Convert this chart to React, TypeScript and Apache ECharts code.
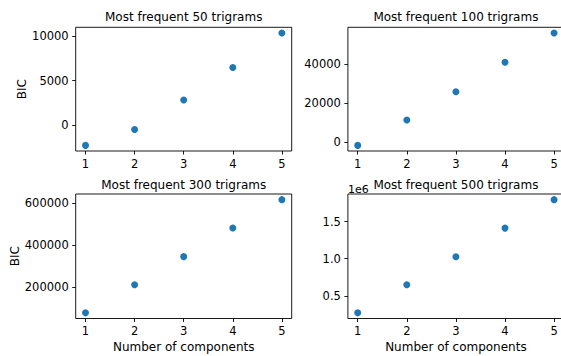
import React, { useEffect, useRef } from "react";
import * as echarts from "echarts";

// Number of mixture components tried for each vocabulary size
const components = [1, 2, 3, 4, 5];

// BIC scores per subset of most frequent trigrams
const bic50 = [-2300, -500, 2820, 6500, 10400];
const bic100 = [-1530, 11430, 25870, 41020, 56000];
const bic300 = [77200, 211500, 345800, 483000, 618000];
const bic500 = [270000, 650000, 1027000, 1413000, 1797000];

const panelTitles = [
  "Most frequent 50 trigrams",
  "Most frequent 100 trigrams",
  "Most frequent 300 trigrams",
  "Most frequent 500 trigrams",
];

// Tick positions on each y axis
const yTicks50 = [0, 5000, 10000];
const yTicks100 = [0, 20000, 40000];
const yTicks300 = [200000, 400000, 600000];
const yTicks500 = [500000, 1000000, 1500000];

const FONT = "DejaVu Sans";
const BLUE = "#1f77b4";

// Panel boxes in pixels: left, top, width, height
const boxes = [
  { left: 75.7, top: 27.3, width: 216, height: 123.7 },
  { left: 347.9, top: 27.3, width: 216, height: 123.7 },
  { left: 75.7, top: 194, width: 216, height: 124.5 },
  { left: 347.9, top: 194, width: 216, height: 124.5 },
];

// Autoscale with a 5% margin on each side, like matplotlib
function padded(vals: number[]) {
  const lo = Math.min(...vals);
  const hi = Math.max(...vals);
  const m = (hi - lo) * 0.05;
  return { min: lo - m, max: hi + m };
}

export default function App() {
  const ref = useRef<HTMLDivElement>(null);

  useEffect(() => {
    if (!ref.current) return;
    const chart = echarts.init(ref.current, undefined, { renderer: "svg" });

    const seriesData = [bic50, bic100, bic300, bic500];
    const yTicks = [yTicks50, yTicks100, yTicks300, yTicks500];

    const grid = boxes.map((b) => ({
      ...b,
      show: true,
      borderColor: "#000",
      borderWidth: 0.9,
      backgroundColor: "transparent",
      containLabel: false,
      outerBoundsMode: "none",
    }));

    const xAxis = boxes.map((_, i) => ({
      type: "value",
      gridIndex: i,
      position: "bottom",
      min: 0.8,
      max: 5.2,
      splitLine: { show: false },
      axisLine: { show: false, onZero: false },
      axisTick: {
        show: true,
        inside: false,
        length: 3.5,
        customValues: components,
        lineStyle: { color: "#000", width: 0.9 },
      },
      axisLabel: {
        show: true,
        margin: 6.5,
        customValues: components,
        fontFamily: FONT,
        fontSize: 11.5,
        color: "#000",
        formatter: (v: number) => String(v),
      },
      name: i >= 2 ? "Number of components" : "",
      nameLocation: "middle",
      nameGap: 22,
      nameTextStyle: { fontFamily: FONT, fontSize: 12, color: "#000" },
    }));

    const yAxis = boxes.map((_, i) => {
      const r = padded(seriesData[i]);
      return {
        type: "value",
        gridIndex: i,
        position: "left",
        min: r.min,
        max: r.max,
        splitLine: { show: false },
        axisLine: { show: false, onZero: false },
        axisTick: {
          show: true,
          inside: false,
          length: 3.5,
          customValues: yTicks[i],
          lineStyle: { color: "#000", width: 0.9 },
        },
        axisLabel: {
          show: true,
          margin: 7,
          customValues: yTicks[i],
          fontFamily: FONT,
          fontSize: 11.5,
          color: "#000",
          formatter: (v: number) =>
            i === 3 ? (v / 1e6).toFixed(1) : String(Math.round(v)),
        },
        name: i % 2 === 0 ? "BIC" : "",
        nameLocation: "middle",
        nameGap: i === 0 ? 48 : 55,
        nameTextStyle: { fontFamily: FONT, fontSize: 12, color: "#000" },
      };
    });

    const series = seriesData.map((vals, i) => ({
      type: "scatter",
      xAxisIndex: i,
      yAxisIndex: i,
      symbol: "circle",
      symbolSize: 7,
      itemStyle: { color: BLUE, opacity: 1 },
      data: components.map((c, j) => [c, vals[j]]),
    }));

    const title = boxes.map((b, i) => ({
      text: panelTitles[i],
      left: b.left + b.width / 2,
      top: i < 2 ? 10.5 : 178.5,
      textAlign: "center",
      padding: 0,
      textStyle: {
        fontFamily: FONT,
        fontSize: 12,
        fontWeight: "normal",
        color: "#000",
      },
    }));

    chart.setOption({
      animation: false,
      backgroundColor: "#fff",
      title,
      grid,
      xAxis,
      yAxis,
      series,
      graphic: [
        {
          type: "text",
          left: 348,
          top: 183.5,
          style: {
            text: "1e6",
            fontFamily: FONT,
            fontSize: 11,
            fill: "#000",
          },
        },
      ],
    });

    return () => chart.dispose();
  }, []);

  return (
    <div
      ref={ref}
      style={{
        position: "fixed",
        left: 0,
        top: 0,
        width: 561,
        height: 356,
        background: "#fff",
      }}
    />
  );
}
